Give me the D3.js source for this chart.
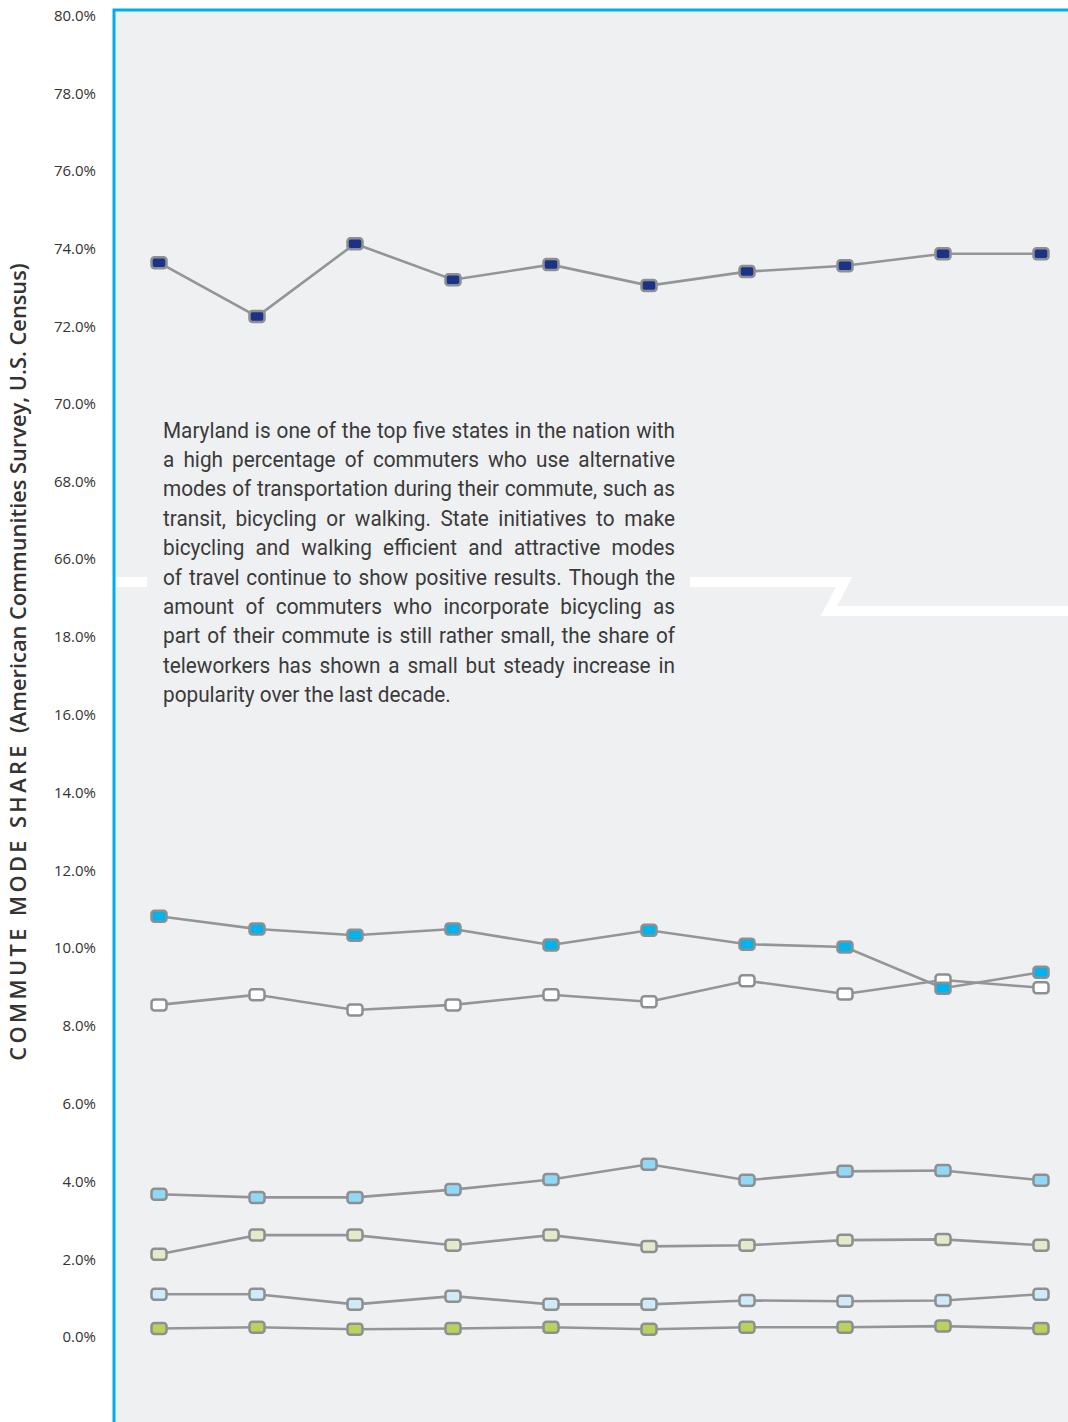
<!DOCTYPE html>
<html>
<head>
<meta charset="utf-8">
<script src="https://cdn.jsdelivr.net/npm/d3@7"></script>
<style>
  body { margin: 0; background: #fff; }
  svg { display: block; }
</style>
</head>
<body>
<div id="chart"></div>
<script>
// commute mode share, Maryland (in %)
const years = [2005, 2006, 2007, 2008, 2009, 2010, 2011, 2012, 2013, 2014];
const driveAlone = [73.64, 72.25, 74.13, 73.20, 73.59, 73.05, 73.41, 73.56, 73.87, 73.87];
const carpool = [10.82, 10.49, 10.33, 10.49, 10.08, 10.46, 10.10, 10.03, 8.97, 9.38];
const transit = [8.54, 8.80, 8.41, 8.54, 8.80, 8.62, 9.16, 8.82, 9.18, 8.98];
const telework = [3.67, 3.59, 3.59, 3.79, 4.05, 4.44, 4.03, 4.26, 4.28, 4.03];
const walking = [2.13, 2.62, 2.62, 2.36, 2.62, 2.33, 2.36, 2.49, 2.51, 2.36];
const other = [1.10, 1.10, 0.84, 1.05, 0.84, 0.84, 0.94, 0.92, 0.94, 1.10];
const bicycle = [0.22, 0.25, 0.20, 0.22, 0.25, 0.20, 0.25, 0.25, 0.28, 0.22];

const topTicks = [66, 68, 70, 72, 74, 76, 78, 80];
const bottomTicks = [0, 2, 4, 6, 8, 10, 12, 14, 16, 18];

const noteLines = [
    "Maryland is one of the top five states in the nation with",
    "a high percentage of commuters who use alternative",
    "modes of transportation during their commute, such as",
    "transit, bicycling or walking. State initiatives to make",
    "bicycling and walking efficient and attractive modes",
    "of travel continue to show positive results. Though the",
    "amount of commuters who incorporate bicycling as",
    "part of their commute is still rather small, the share of",
    "teleworkers has shown a small but steady increase in",
    "popularity over the last decade."
];

const width = 1068, height = 1422;
const plotLeft = 114, plotTop = 10;

const svg = d3.select("#chart").append("svg")
    .attr("width", width)
    .attr("height", height);

// plot background + blue frame
svg.append("rect")
    .attr("x", plotLeft).attr("y", plotTop)
    .attr("width", width - plotLeft).attr("height", height - plotTop)
    .attr("fill", "#eff0f2");
svg.append("path")
    .attr("d", `M${plotLeft},${height}V${plotTop}H${width}`)
    .attr("fill", "none")
    .attr("stroke", "#00aeef")
    .attr("stroke-width", 3);

// scales
const x = d3.scalePoint().domain(years).range([159, 1041]);
const yTop = d3.scaleLinear().domain([66, 80]).range([559, 16]);
const yBottom = d3.scaleLinear().domain([0, 18]).range([1337, 637]);

// axis break marker
svg.append("path")
    .attr("d", "M116,582H147")
    .attr("stroke", "#fff").attr("stroke-width", 10);
svg.append("polyline")
    .attr("points", "690,582 844,582 829,611 1068,611")
    .attr("fill", "none")
    .attr("stroke", "#fff").attr("stroke-width", 10)
    .attr("stroke-linejoin", "miter");

// axes
const fmt = d => d.toFixed(1) + "%";
[[yTop, topTicks], [yBottom, bottomTicks]].forEach(([scale, ticks]) => {
    const g = svg.append("g")
        .attr("transform", `translate(${plotLeft},0)`)
        .call(d3.axisLeft(scale).tickValues(ticks).tickFormat(fmt).tickSize(0).tickPadding(18));
    g.select(".domain").remove();
    g.selectAll("text")
        .attr("fill", "#333")
        .style("font-family", "'Open Sans', sans-serif")
        .style("font-size", "15px");
});

// y-axis title
const ttl = svg.append("text")
    .attr("transform", "translate(26,662) rotate(-90)")
    .attr("text-anchor", "middle")
    .attr("fill", "#333")
    .style("font-family", "'Open Sans', sans-serif")
    .style("font-weight", 600)
    .style("font-size", "21.8px");
ttl.append("tspan").style("letter-spacing", "3.4px").text("COMMUTE MODE SHARE ");
ttl.append("tspan").text(" (American Communities Survey, U.S. Census)");

// series
const series = [
    { values: driveAlone, scale: yTop, fill: "#1b3386" },
    { values: transit, scale: yBottom, fill: "#ffffff" },
    { values: carpool, scale: yBottom, fill: "#00b4ef" },
    { values: telework, scale: yBottom, fill: "#91d8f7" },
    { values: walking, scale: yBottom, fill: "#e2eac9" },
    { values: other, scale: yBottom, fill: "#cfebfa" },
    { values: bicycle, scale: yBottom, fill: "#b7d35b" }
];

series.forEach(s => {
    const pts = years.map((yr, i) => ({ yr, v: s.values[i] }));
    const line = d3.line().x(d => x(d.yr)).y(d => s.scale(d.v));
    const g = svg.append("g");
    g.append("path")
        .datum(pts)
        .attr("d", line)
        .attr("fill", "none")
        .attr("stroke", "#939598")
        .attr("stroke-width", 2.6);
    g.selectAll("rect")
        .data(pts)
        .join("rect")
        .attr("x", d => x(d.yr) - 7.5)
        .attr("y", d => s.scale(d.v) - 5.5)
        .attr("width", 15)
        .attr("height", 11)
        .attr("rx", 3)
        .attr("fill", s.fill)
        .attr("stroke", "#8e8f91")
        .attr("stroke-width", 2.5);
});

// note text, justified lines in a condensed look
const noteLeft = 163, noteRight = 675, firstBase = 437.5, lineGap = 29.4;
const note = svg.append("g")
    .attr("fill", "#3a3a3a")
    .style("font-family", "Roboto, sans-serif")
    .style("font-size", "22px");

// squeeze factor from the last (unjustified) line, which ends near x=451
const probe = note.append("text").text(noteLines[noteLines.length - 1]);
const sx = 288 / probe.node().getComputedTextLength();
probe.remove();

noteLines.forEach((ln, i) => {
    const words = ln.split(" ");
    const row = note.append("g")
        .attr("transform", `translate(${noteLeft},${firstBase + i * lineGap}) scale(${sx},1)`);
    const texts = words.map(w => row.append("text").text(w));
    const widths = texts.map(t => t.node().getComputedTextLength());
    let gap;
    if (i === noteLines.length - 1) {
        const sp = row.append("text").text("a a");
        const a = row.append("text").text("aa");
        gap = sp.node().getComputedTextLength() - a.node().getComputedTextLength();
        sp.remove(); a.remove();
    } else {
        gap = ((noteRight - noteLeft) / sx - d3.sum(widths)) / (words.length - 1);
    }
    let cx = 0;
    texts.forEach((t, k) => {
        t.attr("x", cx);
        cx += widths[k] + gap;
    });
});
</script>
</body>
</html>
